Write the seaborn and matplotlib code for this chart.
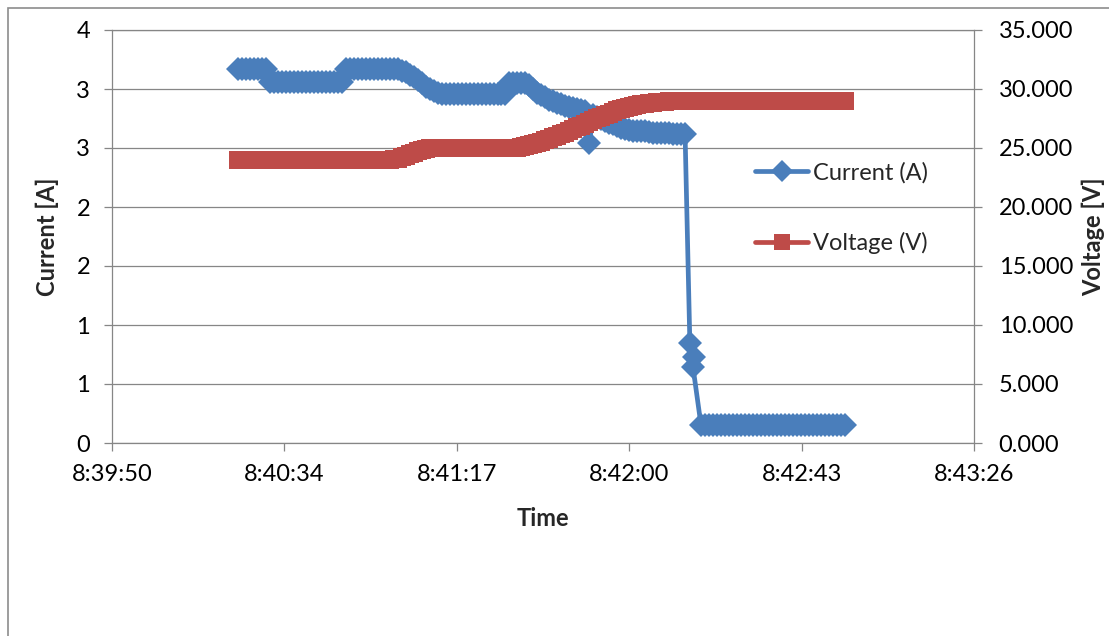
import numpy as np
import pandas as pd
import matplotlib
matplotlib.use("Agg")
import matplotlib.pyplot as plt
import seaborn as sns
from matplotlib.patches import Rectangle

# ---------------- data (one logged sample per second) ----------------
times = [
    "8:40:22", "8:40:23", "8:40:24", "8:40:25", "8:40:26", "8:40:27", "8:40:28", "8:40:29",
    "8:40:30", "8:40:31", "8:40:32", "8:40:33", "8:40:34", "8:40:35", "8:40:36", "8:40:37",
    "8:40:38", "8:40:39", "8:40:40", "8:40:41", "8:40:42", "8:40:43", "8:40:44", "8:40:45",
    "8:40:46", "8:40:47", "8:40:48", "8:40:49", "8:40:50", "8:40:51", "8:40:52", "8:40:53",
    "8:40:54", "8:40:55", "8:40:56", "8:40:57", "8:40:58", "8:40:59",
    "8:41:00", "8:41:01", "8:41:02", "8:41:03", "8:41:04", "8:41:05", "8:41:06", "8:41:07",
    "8:41:08", "8:41:09", "8:41:10", "8:41:11", "8:41:12", "8:41:13", "8:41:14", "8:41:15",
    "8:41:16", "8:41:17", "8:41:18", "8:41:19", "8:41:20", "8:41:21", "8:41:22", "8:41:23",
    "8:41:24", "8:41:25", "8:41:26", "8:41:27", "8:41:28", "8:41:29", "8:41:30", "8:41:31",
    "8:41:32", "8:41:33", "8:41:34", "8:41:35", "8:41:36", "8:41:37", "8:41:38", "8:41:39",
    "8:41:40", "8:41:41", "8:41:42", "8:41:43", "8:41:44", "8:41:45", "8:41:46", "8:41:47",
    "8:41:48", "8:41:49", "8:41:50", "8:41:51", "8:41:52", "8:41:53", "8:41:54", "8:41:55",
    "8:41:56", "8:41:57", "8:41:58", "8:41:59",
    "8:42:00", "8:42:01", "8:42:02", "8:42:03", "8:42:04", "8:42:05", "8:42:06", "8:42:07",
    "8:42:08", "8:42:09", "8:42:10", "8:42:11", "8:42:12", "8:42:13", "8:42:14",
    "8:42:15.2", "8:42:16.2", "8:42:16.0",
    "8:42:18", "8:42:19", "8:42:20", "8:42:21", "8:42:22", "8:42:23", "8:42:24", "8:42:25",
    "8:42:26", "8:42:27", "8:42:28", "8:42:29", "8:42:30", "8:42:31", "8:42:32", "8:42:33",
    "8:42:34", "8:42:35", "8:42:36", "8:42:37", "8:42:38", "8:42:39", "8:42:40", "8:42:41",
    "8:42:42", "8:42:43", "8:42:44", "8:42:45", "8:42:46", "8:42:47", "8:42:48", "8:42:49",
    "8:42:50", "8:42:51", "8:42:52", "8:42:53", "8:42:54",
]

current = [
    # 8:40:22 - 8:40:29
    3.17, 3.17, 3.17, 3.17, 3.17, 3.17, 3.17, 3.17,
    # 8:40:30 - 8:40:48
    3.06, 3.06, 3.06, 3.06, 3.06, 3.06, 3.06, 3.06, 3.06, 3.06,
    3.06, 3.06, 3.06, 3.06, 3.06, 3.06, 3.06, 3.06, 3.06,
    # 8:40:49 - 8:41:02
    3.17, 3.17, 3.17, 3.17, 3.17, 3.17, 3.17, 3.17, 3.17, 3.17,
    3.17, 3.17, 3.17, 3.17,
    # 8:41:03 - 8:41:12
    3.155, 3.14, 3.12, 3.10, 3.075, 3.05, 3.02, 3.00, 2.98, 2.97,
    # 8:41:13 - 8:41:29
    2.96, 2.96, 2.96, 2.96, 2.96, 2.96, 2.96, 2.96, 2.96, 2.96,
    2.96, 2.96, 2.96, 2.96, 2.96, 2.96, 2.96,
    # 8:41:30 - 8:41:35
    3.05, 3.05, 3.05, 3.05, 3.05, 3.03,
    # 8:41:36 - 8:41:59
    3.00, 2.97, 2.95, 2.93, 2.91, 2.895, 2.88, 2.87, 2.86, 2.85,
    2.84, 2.83, 2.82, 2.81, 2.54, 2.78, 2.76, 2.745, 2.73, 2.715,
    2.70, 2.685, 2.67, 2.66,
    # 8:42:00 - 8:42:14
    2.65, 2.645, 2.64, 2.64, 2.64, 2.635, 2.63, 2.63, 2.63, 2.63,
    2.625, 2.62, 2.62, 2.62, 2.62,
    # drop
    0.85, 0.73, 0.64,
    # 8:42:18 - 8:42:54
    0.15, 0.15, 0.15, 0.15, 0.15, 0.15, 0.15, 0.15, 0.15, 0.15,
    0.15, 0.15, 0.15, 0.15, 0.15, 0.15, 0.15, 0.15, 0.15, 0.15,
    0.15, 0.15, 0.15, 0.15, 0.15, 0.15, 0.15, 0.15, 0.15, 0.15,
    0.15, 0.15, 0.15, 0.15, 0.15, 0.15, 0.15,
]

voltage = [
    # 8:40:22 - 8:41:00
    24.0, 24.0, 24.0, 24.0, 24.0, 24.0, 24.0, 24.0, 24.0, 24.0,
    24.0, 24.0, 24.0, 24.0, 24.0, 24.0, 24.0, 24.0, 24.0, 24.0,
    24.0, 24.0, 24.0, 24.0, 24.0, 24.0, 24.0, 24.0, 24.0, 24.0,
    24.0, 24.0, 24.0, 24.0, 24.0, 24.0, 24.0, 24.0, 24.0,
    # 8:41:01 - 8:41:10
    24.05, 24.1, 24.2, 24.3, 24.45, 24.6, 24.75, 24.85, 24.95, 25.0,
    # 8:41:11 - 8:41:32
    25.0, 25.0, 25.0, 25.0, 25.0, 25.0, 25.0, 25.0, 25.0, 25.0, 25.0,
    25.0, 25.0, 25.0, 25.0, 25.0, 25.0, 25.0, 25.0, 25.0, 25.0, 25.0,
    # 8:41:33 - 8:41:59
    25.07, 25.15, 25.25, 25.35, 25.45, 25.55, 25.68, 25.8, 25.92, 26.05,
    26.18, 26.3, 26.45, 26.6, 26.75, 26.9, 27.05, 27.2, 27.35, 27.5,
    27.65, 27.8, 27.92, 28.05, 28.18, 28.3, 28.4,
    # 8:42:00 - 8:42:14
    28.5, 28.58, 28.65, 28.7, 28.75, 28.8, 28.85, 28.88, 28.9, 28.93,
    28.95, 28.97, 29.0, 29.0, 29.0,
    # drop
    29.0, 29.0, 29.0,
    # 8:42:18 - 8:42:54
    29.0, 29.0, 29.0, 29.0, 29.0, 29.0, 29.0, 29.0, 29.0, 29.0,
    29.0, 29.0, 29.0, 29.0, 29.0, 29.0, 29.0, 29.0, 29.0, 29.0,
    29.0, 29.0, 29.0, 29.0, 29.0, 29.0, 29.0, 29.0, 29.0, 29.0,
    29.0, 29.0, 29.0, 29.0, 29.0, 29.0, 29.0,
]

x_tick_labels = ["8:39:50", "8:40:34", "8:41:17", "8:42:00", "8:42:43", "8:43:26"]
current_ticks = [0, 0.5, 1.0, 1.5, 2.0, 2.5, 3.0, 3.5]
current_tick_labels = ["0", "1", "1", "2", "2", "3", "3", "4"]
voltage_ticks = [0, 5, 10, 15, 20, 25, 30, 35]
voltage_tick_labels = ["0.000", "5.000", "10.000", "15.000", "20.000", "25.000", "30.000", "35.000"]

assert len(times) == len(current) == len(voltage), (len(times), len(current), len(voltage))


def to_sec(s):
    h, m, sec = s.split(":")
    return int(h) * 3600 + int(m) * 60 + float(sec)


df = pd.DataFrame({
    "t": [to_sec(s) for s in times],
    "Current (A)": current,
    "Voltage (V)": voltage,
})

# ---------------- style ----------------
sns.set_style("white")
plt.rcParams["font.family"] = ["Lato", "DejaVu Sans"]

BLUE = "#4A7EBB"
RED = "#BE4B48"
GRAY = "#868686"
FS = 17

W, H = 1109, 636
fig = plt.figure(figsize=(W / 100, H / 100), dpi=100)
fig.patch.set_facecolor("white")

L, R, T, B = 112, 974, 30, 443
ax = fig.add_axes([L / W, 1 - B / H, (R - L) / W, (B - T) / H])
ax2 = ax.twinx()

sns.lineplot(data=df, x="t", y="Current (A)", ax=ax, color=BLUE, marker="D",
             markersize=12, markeredgewidth=0, linewidth=3.4,
             estimator=None, sort=False, label="Current (A)", legend=False)
sns.lineplot(data=df, x="t", y="Voltage (V)", ax=ax2, color=RED, marker="s",
             markersize=12.5, markeredgewidth=0, linewidth=3.4,
             estimator=None, sort=False, label="Voltage (V)", legend=False)

# x axis (Excel time axis, major unit 0.0005 day = 43.2 s)
x0 = to_sec("8:39:50.4")
xticks = [x0 + 43.2 * k for k in range(len(x_tick_labels))]
ax.set_xlim(xticks[0], xticks[-1])
ax.set_xticks(xticks)
ax.set_xticklabels(x_tick_labels)

ax.set_ylim(0, 3.5)
ax.set_yticks(current_ticks)
ax.set_yticklabels(current_tick_labels)
ax2.set_ylim(0, 35)
ax2.set_yticks(voltage_ticks)
ax2.set_yticklabels(voltage_tick_labels)

ax.yaxis.grid(True, color=GRAY, linewidth=0.9)
ax.xaxis.grid(False)
ax2.grid(False)
ax.set_axisbelow(True)

for a in (ax, ax2):
    for s in a.spines.values():
        s.set_visible(False)
ax.spines["left"].set_visible(True)
ax.spines["bottom"].set_visible(True)
ax.spines["top"].set_visible(True)
ax2.spines["right"].set_visible(True)
for s in (ax.spines["left"], ax.spines["bottom"], ax.spines["top"], ax2.spines["right"]):
    s.set_color(GRAY)
    s.set_linewidth(0.9)

ax.tick_params(axis="y", direction="out", length=5.8, width=0.9, color=GRAY,
               pad=10, labelsize=FS, labelcolor="black", left=True)
ax.tick_params(axis="x", direction="out", length=5.8, width=0.9, color=GRAY,
               pad=9, labelsize=FS, labelcolor="black", bottom=True)
ax2.tick_params(axis="y", direction="out", length=5.8, width=0.9, color=GRAY,
                pad=12, labelsize=FS, labelcolor="black", right=True)

ax.set_xlabel("Time", fontsize=FS, fontweight="bold")
ax.xaxis.set_label_coords(0.5, (B - 518) / (B - T))
ax.xaxis.label.set_va("center")
ax.set_ylabel("Current [A]", fontsize=FS, fontweight="bold")
ax.yaxis.set_label_coords((47 - L) / (R - L), 0.5)
ax.yaxis.label.set_va("center")
ax2.set_ylabel("Voltage [V]", fontsize=FS, fontweight="bold", rotation=90)
ax2.yaxis.set_label_coords((1093 - L) / (R - L), 0.5)
ax2.yaxis.label.set_va("center")

h1, l1 = ax.get_legend_handles_labels()
h2, l2 = ax2.get_legend_handles_labels()
ax2.legend(h1 + h2, l1 + l2, loc="upper left",
           bbox_to_anchor=(755 / W, 1 - 162 / H), bbox_transform=fig.transFigure,
           frameon=False, borderpad=0, borderaxespad=0, handlelength=2.25,
           handletextpad=0.2, labelspacing=2.05, fontsize=FS, markerscale=0.9)

# outer chart-area frame
fig.patches.append(Rectangle((8 / W, -0.1), 1.2, 1.1 - 8 / H, transform=fig.transFigure,
                             fill=False, edgecolor="#8C8C8C", linewidth=1.2, zorder=-5))

fig.savefig("out.png", dpi=100, facecolor="white")
